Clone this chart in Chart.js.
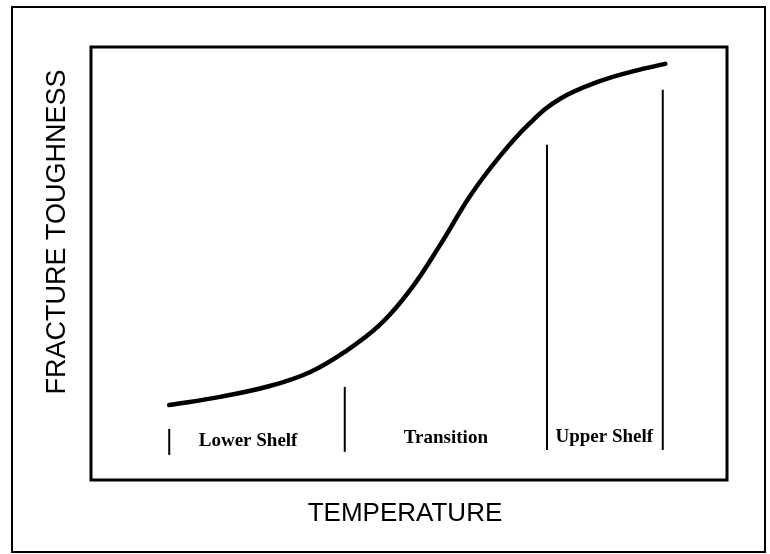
<!DOCTYPE html>
<html lang="en">
<head>
    <meta charset="UTF-8">
    <title>Fracture Toughness vs Temperature</title>
    <style>
        body {
            margin: 0;
            padding: 0;
            background-color: #ffffff;
        }
        #chart {
            display: block;
        }
    </style>
</head>
<body>

    <canvas id="chart" width="770" height="554"></canvas>

    <script src="https://cdn.jsdelivr.net/npm/chart.js"></script>
    <script>
        // ductile-brittle transition curve (arbitrary units, 0-100 on both axes)
        const temperature = [12.3, 20.3, 28.1, 34.4, 39.9, 45.4, 50.2, 54.9, 59.6, 64.3, 69.0, 73.7, 80.0, 85.5, 90.3];
        const toughness   = [17.3, 19.2, 21.7, 24.9, 29.6, 35.8, 43.9, 54.3, 65.6, 74.8, 82.4, 88.0, 92.1, 94.5, 96.1];

        // region boundaries: x position, bottom and top of each marker
        const dividerX    = [12.3, 39.9, 71.7, 89.9];
        const dividerLow  = [5.8, 6.5, 6.9, 6.9];
        const dividerHigh = [11.8, 21.5, 77.4, 90.1];

        // region names and where they sit
        const regionNames = ['Lower Shelf', 'Transition', 'Upper Shelf'];
        const regionX = [24.7, 55.8, 80.7];
        const regionY = [9.0, 9.7, 9.9];

        const xTitle = 'TEMPERATURE';
        const yTitle = 'FRACTURE TOUGHNESS';

        const datasets = [{
            data: temperature.map((t, i) => ({ x: t, y: toughness[i] })),
            borderColor: '#000',
            borderWidth: 4.5,
            borderCapStyle: 'round',
            tension: 0.4,
            pointRadius: 0
        }];

        dividerX.forEach((x, i) => {
            datasets.push({
                data: [{ x: x, y: dividerLow[i] }, { x: x, y: dividerHigh[i] }],
                borderColor: '#000',
                borderWidth: 2,
                pointRadius: 0
            });
        });

        // frame, box, titles and region labels
        const decorations = {
            id: 'decorations',
            afterDraw(chart) {
                const ctx = chart.ctx;
                const area = chart.chartArea;
                const xs = chart.scales.x;
                const ys = chart.scales.y;
                ctx.save();
                ctx.strokeStyle = '#000';

                // outer frame
                ctx.lineWidth = 2;
                ctx.strokeRect(12, 7, 753, 545);

                // plot box
                ctx.lineWidth = 3;
                ctx.strokeRect(area.left, area.top, area.right - area.left, area.bottom - area.top);

                ctx.fillStyle = '#000';
                ctx.textAlign = 'center';
                ctx.textBaseline = 'middle';

                ctx.font = "bold 19px 'Liberation Serif', 'Times New Roman', serif";
                regionNames.forEach((name, i) => {
                    ctx.fillText(name, xs.getPixelForValue(regionX[i]), ys.getPixelForValue(regionY[i]));
                });

                ctx.font = "26px 'Liberation Sans', Arial, sans-serif";
                ctx.fillText(xTitle, area.left + 314, area.bottom + 34);

                ctx.font = "27px 'Liberation Sans', Arial, sans-serif";
                ctx.translate(area.left - 33, area.top + 185);
                ctx.rotate(-Math.PI / 2);
                ctx.fillText(yTitle, 0, 0);
                ctx.restore();
            }
        };

        new Chart(document.getElementById('chart'), {
            type: 'line',
            data: { datasets: datasets },
            options: {
                responsive: false,
                animation: false,
                layout: {
                    padding: { left: 91, top: 47, right: 43, bottom: 74 }
                },
                scales: {
                    x: { type: 'linear', min: 0, max: 100, display: false },
                    y: { min: 0, max: 100, display: false }
                },
                plugins: {
                    legend: { display: false },
                    tooltip: { enabled: false }
                }
            },
            plugins: [decorations]
        });
    </script>
</body>
</html>
